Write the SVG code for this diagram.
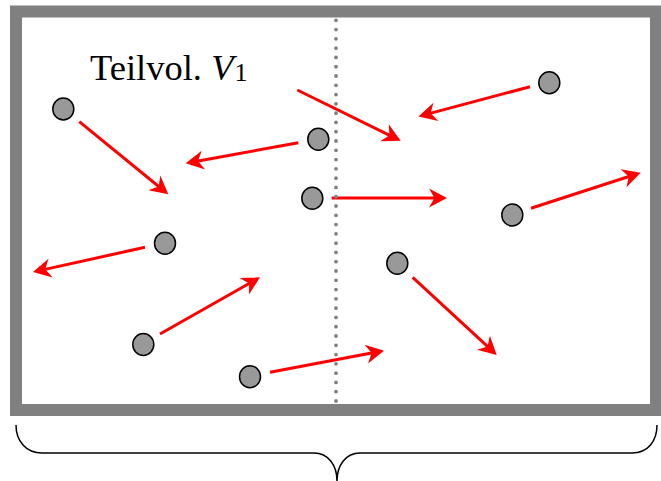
<svg xmlns="http://www.w3.org/2000/svg" width="661" height="481" viewBox="0 0 661 481">
<style>
.ball{fill:#999999;stroke:#000;stroke-width:1.5}
.arr{stroke:#ff0000;stroke-width:3;fill:none;marker-end:url(#head)}
.lbl{font-family:"Liberation Serif","Times New Roman",serif;fill:#000}
</style>
<defs>
<marker id="head" markerUnits="userSpaceOnUse" orient="auto" viewBox="-10 -11 22 22" markerWidth="22" markerHeight="22" refX="0" refY="0">
<path d="M10,0 L-8,-9.5 L-2.5,0 L-8,9.5 Z" fill="#ff0000"/>
</marker>
</defs>
<rect x="0" y="0" width="661" height="481" fill="#fff"/>
<g id="frame">
<rect x="16" y="11.5" width="640" height="398.5" fill="#fff" stroke="#808080" stroke-width="12"/>
</g>
<g id="label">
<text class="lbl" x="90" y="80" font-size="36.5">Teilvol. <tspan font-style="italic">V</tspan><tspan font-size="26" dy="1" dx="1">1</tspan></text>
</g>
<g id="connectors">
<line class="arr" x1="79.3" y1="121.7" x2="160.55" y2="187.98"/>
<line class="arr" x1="298.3" y1="142.7" x2="195.54" y2="161.5"/>
<line class="arr" x1="530" y1="86.7" x2="428.16" y2="113.92"/>
<line class="arr" x1="297.3" y1="90" x2="391.72" y2="136.3"/>
<line class="arr" x1="331.7" y1="198" x2="437" y2="198"/>
<line class="arr" x1="531" y1="208.3" x2="631.19" y2="175.79"/>
<line class="arr" x1="145" y1="247.3" x2="42.77" y2="269.85"/>
<line class="arr" x1="412.7" y1="277.3" x2="489.36" y2="348.21"/>
<line class="arr" x1="160" y1="334" x2="251.3" y2="282.23"/>
<line class="arr" x1="270" y1="372.3" x2="374.18" y2="352.56"/>
</g>
<g id="divider">
<line x1="336" y1="20.3" x2="336" y2="402" stroke="#808080" stroke-width="3.8" stroke-linecap="round" stroke-dasharray="0 9.285"/>
</g>
<g id="ball1"><ellipse class="ball" cx="63.3" cy="109" rx="10.5" ry="11"/></g>
<g id="ball2"><ellipse class="ball" cx="318.3" cy="139.3" rx="10.5" ry="11"/></g>
<g id="ball3"><ellipse class="ball" cx="549.3" cy="82.7" rx="10.5" ry="11"/></g>
<g id="ball4"><ellipse class="ball" cx="312.3" cy="198.3" rx="10.5" ry="11"/></g>
<g id="ball5"><ellipse class="ball" cx="512.3" cy="215" rx="10.5" ry="11"/></g>
<g id="ball6"><ellipse class="ball" cx="165" cy="243.3" rx="10.5" ry="11"/></g>
<g id="ball7"><ellipse class="ball" cx="397.3" cy="263.3" rx="10.5" ry="11"/></g>
<g id="ball8"><ellipse class="ball" cx="143.3" cy="344.5" rx="10.5" ry="11"/></g>
<g id="ball9"><ellipse class="ball" cx="250" cy="376.7" rx="10.5" ry="11"/></g>
<g id="brace">
<path d="M16,425 C16,441 26,453 42,453 L314,453 C328,453 337,465 337,481 C337,465 346,453 360,453 L632,453 C648,453 657,441 657,425" fill="none" stroke="#000" stroke-width="1.5"/>
</g>
</svg>
